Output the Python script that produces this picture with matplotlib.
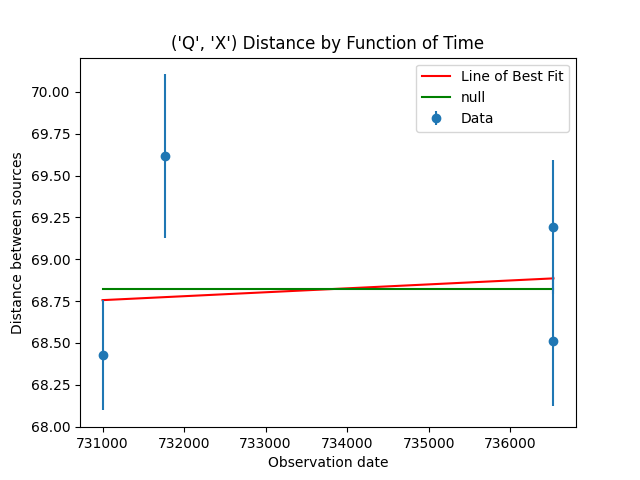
import matplotlib
matplotlib.use('Agg')
import matplotlib.pyplot as plt
import numpy as np

# observation dates (ordinal) and measured distances
dates = [731000, 731762, 736530, 736530]
distances = [68.427, 69.615, 69.193, 68.511]
errors = [0.33, 0.49, 0.40, 0.39]

# best fit line values at the first and last date, and the null (mean) value
fit_dates = [731000, 736530]
fit_values = [68.756, 68.886]
null_value = 68.822

fig, ax = plt.subplots(figsize=(6.4, 4.8), dpi=100)
ax.plot(fit_dates, fit_values, color='red', label='Line of Best Fit')
ax.plot(fit_dates, [null_value] * len(fit_dates), color='green', label='null')
ax.errorbar(dates, distances, yerr=errors, fmt='o', label='Data')

ax.set_title("('Q', 'X') Distance by Function of Time")
ax.set_xlabel('Observation date')
ax.set_ylabel('Distance between sources')
ax.legend(loc='upper right')

fig.savefig('out.png')
